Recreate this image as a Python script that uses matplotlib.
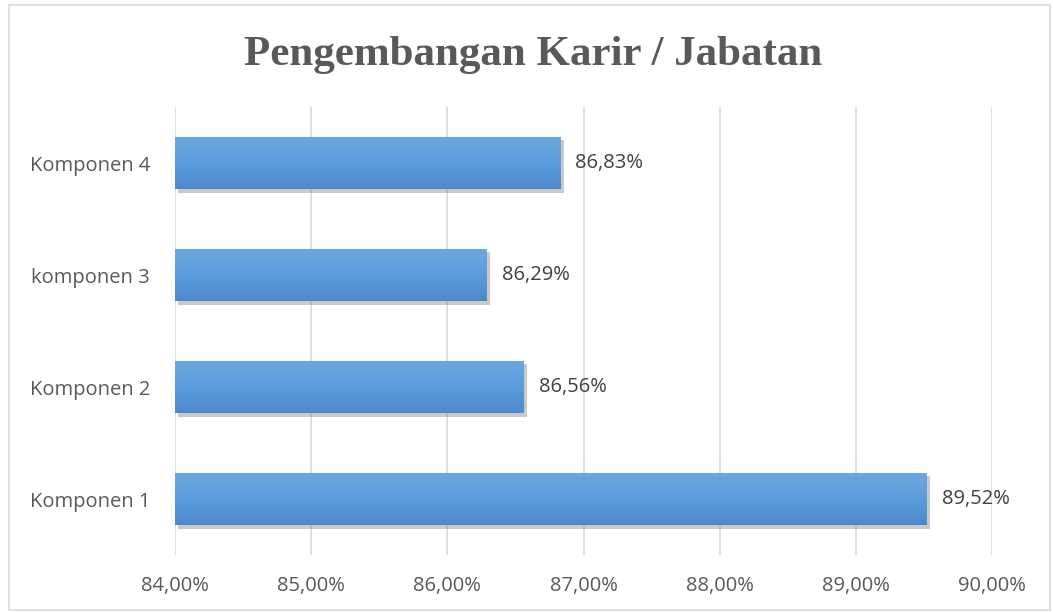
import matplotlib
matplotlib.use("Agg")
import matplotlib.pyplot as plt
import matplotlib.patheffects as pe
import numpy as np

# Data
kategori = ["Komponen 1", "Komponen 2", "komponen 3", "Komponen 4"]
nilai = [89.52, 86.56, 86.29, 86.83]
ticks_x = [84, 85, 86, 87, 88, 89, 90]

abu = "#595959"

fig = plt.figure(figsize=(10.53, 6.13), dpi=100)
ax = fig.add_axes([175 / 1053, 1 - 555 / 613, (992 - 175) / 1053, (555 - 107) / 613])

# Bingkai chart
fig.patches.append(plt.Rectangle((9 / 1053, 3 / 613), 1041 / 1053, 605 / 613,
                                 transform=fig.transFigure, fill=False,
                                 edgecolor="#d9d9d9", linewidth=1.2))

y = np.arange(len(kategori))
tinggi = 0.47
bars = ax.barh(y, [v - 84 for v in nilai], left=84, height=tinggi,
               color="#5b9bd5", zorder=3,
               path_effects=[pe.SimplePatchShadow(offset=(2.5, -2.5), shadow_rgbFace="#888888", alpha=0.45), pe.Normal()])

# Gradien di setiap batang
grad = np.linspace(0, 1, 64).reshape(-1, 1)
cmap = matplotlib.colors.LinearSegmentedColormap.from_list("g", ["#4a8acb", "#5b9cdd", "#6ea7de"])
for b in bars:
    x0, y0 = b.get_x(), b.get_y()
    im = ax.imshow(grad, extent=[x0, x0 + b.get_width(), y0, y0 + b.get_height()],
                   cmap=cmap, aspect="auto", origin="lower", zorder=4)
    im.set_clip_path(b)

for yi, v in zip(y, nilai):
    ax.text(v + 0.11, yi, f"{v:.2f}%".replace(".", ","), va="center", ha="left",
            fontsize=14.5, color="#404040", family="Open Sans", zorder=5)

ax.set_xlim(84, 90)
ax.set_ylim(-0.5, 3.5)
ax.set_xticks(ticks_x)
ax.set_xticklabels([f"{t:.2f}%".replace(".", ",") for t in ticks_x],
                   fontsize=14.5, color=abu, family="Open Sans")
ax.set_yticks(y)
ax.set_yticklabels(kategori, fontsize=14.5, color=abu, family="Open Sans")
ax.tick_params(length=0)
ax.tick_params(axis="x", pad=15)
ax.tick_params(axis="y", pad=18)
ax.grid(axis="x", color="#d9d9d9", linewidth=1.2, zorder=0)
for s in ax.spines.values():
    s.set_visible(False)

fig.text(533 / 1053, 1 - 55 / 613, "Pengembangan Karir / Jabatan", ha="center", va="center",
         fontsize=31, fontweight="bold", color=abu, family="Liberation Serif")

fig.savefig("out.png", dpi=100)
